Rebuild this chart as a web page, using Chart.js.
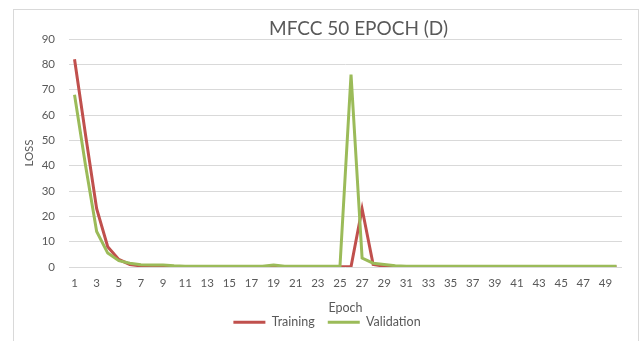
<!DOCTYPE html>
<html>
<head>
<meta charset="utf-8">
<script src="https://cdn.jsdelivr.net/npm/chart.js@4.4.1/dist/chart.umd.min.js"></script>
<style>
  html, body { margin: 0; padding: 0; background: #ffffff; }
  #wrap { position: relative; width: 640px; height: 341px; }
  #wrap canvas { position: absolute; left: 0; top: 0; }
  #frame {
    position: absolute; left: 13px; top: 9px; width: 626px; height: 345px;
    border: 1px solid #d9d9d9; box-sizing: border-box; pointer-events: none;
  }
</style>
</head>
<body>
<div id="wrap">
  <canvas id="chart" width="640" height="341"></canvas>
  <div id="frame"></div>
</div>
<script>
// Epoch numbers along the x axis
const epochs = [
  1, 2, 3, 4, 5, 6, 7, 8, 9, 10,
  11, 12, 13, 14, 15, 16, 17, 18, 19, 20,
  21, 22, 23, 24, 25, 26, 27, 28, 29, 30,
  31, 32, 33, 34, 35, 36, 37, 38, 39, 40,
  41, 42, 43, 44, 45, 46, 47, 48, 49, 50
];

// Training loss per epoch
const trainingLoss = [
  82, 52, 23, 8, 3, 1, 0.4, 0.1, 0.1, 0.1,
  0.1, 0.1, 0.1, 0.1, 0.1, 0.1, 0.1, 0.1, 0.1, 0.1,
  0.1, 0.1, 0.1, 0.1, 0.1, 0.1, 23, 1, 0.3, 0.1,
  0.1, 0.1, 0.1, 0.1, 0.1, 0.1, 0.1, 0.1, 0.1, 0.1,
  0.1, 0.1, 0.1, 0.1, 0.1, 0.1, 0.1, 0.1, 0.1, 0.1
];

// Validation loss per epoch
const validationLoss = [
  68, 40, 14, 5.5, 2.5, 1.5, 0.9, 0.8, 0.8, 0.5,
  0.3, 0.3, 0.3, 0.3, 0.3, 0.3, 0.3, 0.3, 0.8, 0.3,
  0.3, 0.3, 0.3, 0.3, 0.3, 76, 3.5, 1.5, 1, 0.5,
  0.3, 0.3, 0.3, 0.3, 0.3, 0.3, 0.3, 0.3, 0.3, 0.3,
  0.3, 0.3, 0.3, 0.3, 0.3, 0.3, 0.3, 0.3, 0.3, 0.3
];

// Y axis tick range
const yTicks = { min: 0, max: 90, step: 10 };

const FONT = 'Lato, "Open Sans", sans-serif';
const TEXT = '#595959';
const GRID = '#d9d9d9';

// Nudges the title and the legend sideways / vertically after layout
const placeBlocks = {
  id: 'placeBlocks',
  afterLayout(chart) {
    const t = chart.titleBlock;
    if (t) {
      const dx = 358.5 - (t.left + t.right) / 2;
      t.left += dx; t.right += dx;
    }
    const lg = chart.legend;
    if (lg) {
      const dx = 327 - (lg.left + lg.right) / 2;
      lg.left += dx; lg.right += dx;
      const dy = 303 - lg.top;
      lg.top += dy; lg.bottom += dy;
    }
  }
};

new Chart(document.getElementById('chart'), {
  type: 'line',
  data: {
    labels: epochs,
    datasets: [
      {
        label: 'Training',
        data: trainingLoss,
        borderColor: '#c0504d',
        backgroundColor: '#c0504d',
        borderWidth: 3,
        pointRadius: 0,
        tension: 0,
        order: 1
      },
      {
        label: 'Validation',
        data: validationLoss,
        borderColor: '#9bbb59',
        backgroundColor: '#9bbb59',
        borderWidth: 3,
        pointRadius: 0,
        tension: 0,
        order: 0
      }
    ]
  },
  plugins: [placeBlocks],
  options: {
    responsive: false,
    animation: false,
    layout: { padding: { left: 0, right: 18, top: 0, bottom: 0 } },
    plugins: {
      title: {
        display: true,
        text: 'MFCC 50 EPOCH (D)',
        color: TEXT,
        font: { family: FONT, size: 19, weight: 'normal', lineHeight: 1 },
        padding: { top: 19, bottom: 1 }
      },
      legend: {
        position: 'bottom',
        maxHeight: 26,
        labels: {
          color: TEXT,
          font: { family: FONT, size: 12.5 },
          usePointStyle: true,
          pointStyle: 'line',
          pointStyleWidth: 32,
          boxWidth: 32,
          padding: 13,
          sort: (a, b) => a.datasetIndex - b.datasetIndex
        }
      },
      tooltip: { enabled: false }
    },
    scales: {
      x: {
        type: 'category',
        offset: true,
        grid: { display: false, drawTicks: false },
        border: { display: false },
        ticks: {
          autoSkip: false,
          maxRotation: 0,
          minRotation: 0,
          padding: 9,
          color: TEXT,
          font: { family: FONT, size: 11.5 },
          callback: function (value, index) {
            return index % 2 === 0 ? this.getLabelForValue(value) : '';
          }
        },
        title: {
          display: true,
          text: 'Epoch',
          color: TEXT,
          font: { family: FONT, size: 12.5, lineHeight: 1.2 },
          padding: { top: 0, bottom: 0 }
        },
        afterFit: (s) => { s.height = 48; }
      },
      y: {
        min: yTicks.min,
        max: yTicks.max,
        grid: { color: GRID, lineWidth: 1, drawTicks: false },
        border: { display: false },
        ticks: {
          stepSize: yTicks.step,
          padding: 14,
          color: TEXT,
          font: { family: FONT, size: 11.5 }
        },
        title: {
          display: true,
          text: 'LOSS',
          color: TEXT,
          font: { family: FONT, size: 11.5, lineHeight: 1.2 },
          padding: { top: 22, bottom: 0 }
        },
        afterFit: (s) => { s.width = 69; }
      }
    }
  }
});
</script>
</body>
</html>
